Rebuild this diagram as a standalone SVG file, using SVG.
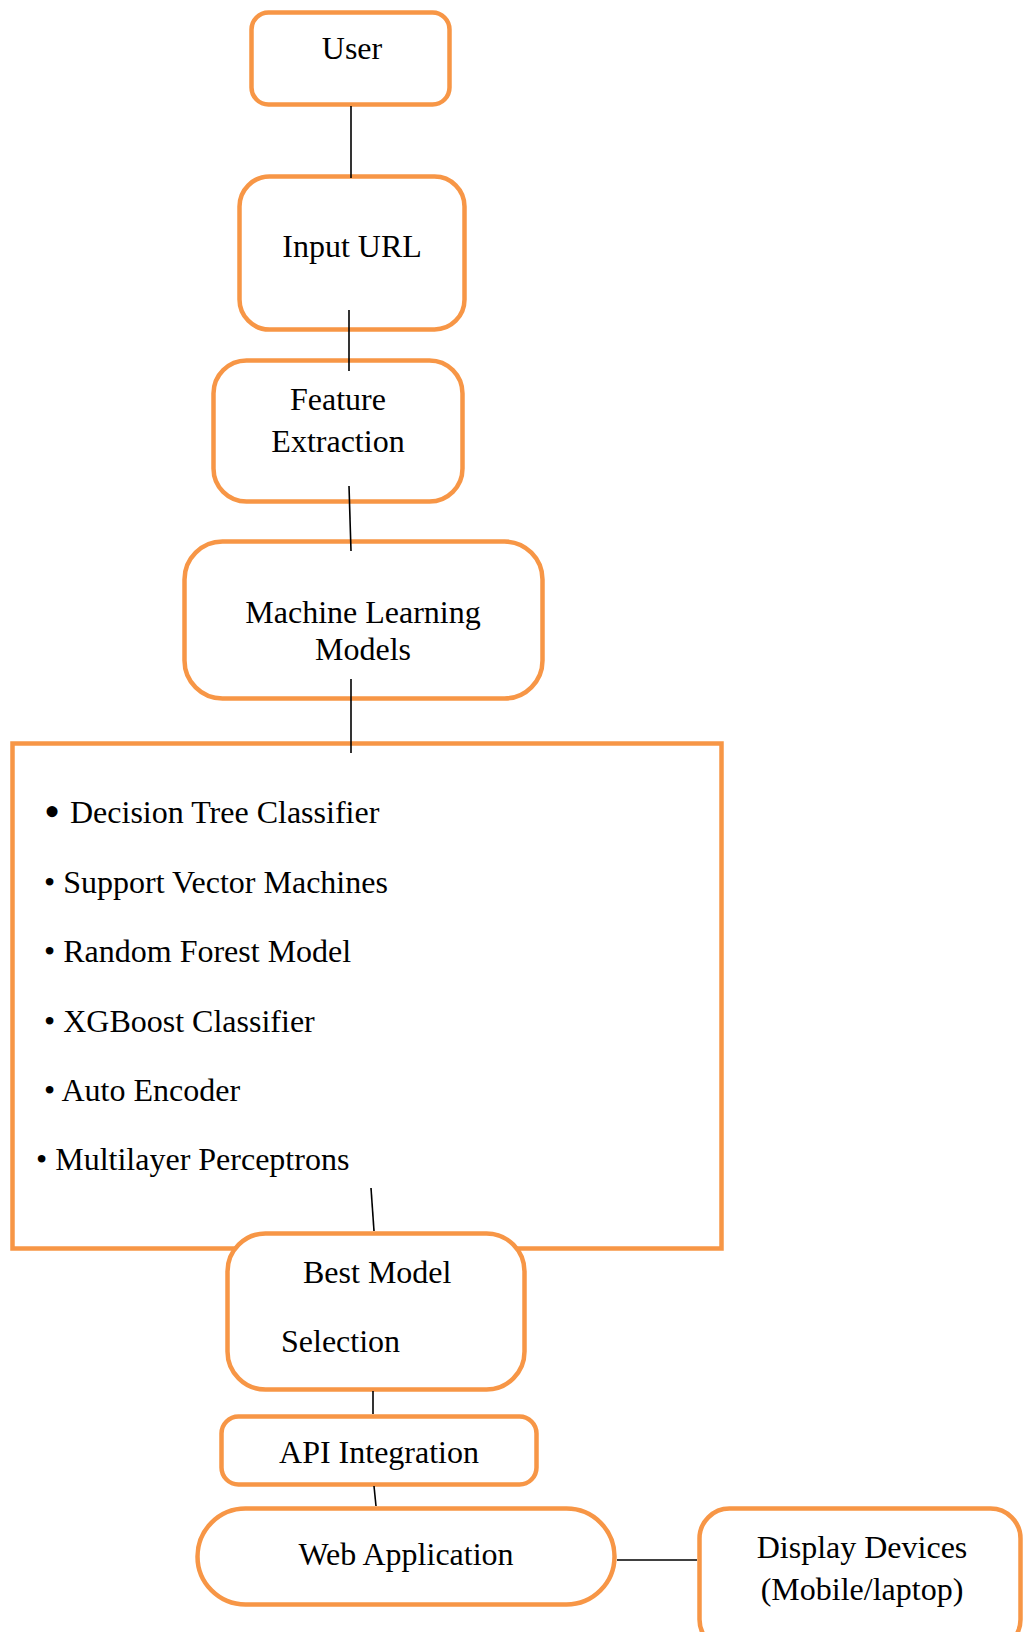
<svg xmlns="http://www.w3.org/2000/svg" width="1025" height="1632" viewBox="0 0 1025 1632">
  <style>
    .box { fill: #ffffff; stroke: #F79646; stroke-width: 4.5; }
    .lbl { font-family: "Liberation Serif", "Times New Roman", serif; font-size: 32px; fill: #000000; }
    .mid { text-anchor: middle; }
    .link { stroke: #000000; stroke-width: 1.6; fill: none; }
  </style>
  <rect width="1025" height="1632" fill="#ffffff"/>

  <g id="user">
    <rect class="box" x="251.5" y="12.5" width="198" height="92" rx="17"/>
    <text class="lbl mid" x="352" y="59">User</text>
  </g>

  <g id="input-url">
    <rect class="box" x="239.5" y="176.5" width="225" height="153" rx="30"/>
    <text class="lbl mid" x="352" y="257">Input URL</text>
  </g>

  <g id="feature-extraction">
    <rect class="box" x="213.5" y="360.5" width="249" height="141" rx="33"/>
    <text class="lbl mid" x="338" y="410">Feature</text>
    <text class="lbl mid" x="338" y="452">Extraction</text>
  </g>

  <g id="ml-models">
    <rect class="box" x="184.5" y="541.5" width="358" height="157" rx="38"/>
    <text class="lbl mid" x="363" y="623">Machine Learning</text>
    <text class="lbl mid" x="363" y="660">Models</text>
  </g>

  <g id="model-list">
    <rect class="box" x="12.5" y="743.5" width="709" height="505" rx="0"/>
    <text class="lbl"><tspan x="44" y="827" font-size="46">•</tspan><tspan x="70" y="823">Decision Tree Classifier</tspan></text>
    <text class="lbl" x="44" y="893">• Support Vector Machines</text>
    <text class="lbl" x="44" y="962">• Random Forest Model</text>
    <text class="lbl" x="44" y="1032">• XGBoost Classifier</text>
    <text class="lbl" x="44" y="1101">• Auto Encoder</text>
    <text class="lbl" x="36" y="1170">• Multilayer Perceptrons</text>
  </g>

  <g id="best-model">
    <rect class="box" x="227.5" y="1233.5" width="297" height="156" rx="38"/>
    <text class="lbl" x="303" y="1283">Best Model</text>
    <text class="lbl" x="281" y="1352">Selection</text>
  </g>

  <g id="api-integration">
    <rect class="box" x="221.5" y="1416.5" width="315" height="68" rx="17"/>
    <text class="lbl mid" x="379" y="1463">API Integration</text>
  </g>

  <g id="web-application">
    <rect class="box" x="197.5" y="1508.5" width="417" height="96" rx="48"/>
    <text class="lbl mid" x="406" y="1565">Web Application</text>
  </g>

  <g id="display-devices">
    <rect class="box" x="699.5" y="1508.5" width="321" height="141" rx="30"/>
    <text class="lbl mid" x="862" y="1558">Display Devices</text>
    <text class="lbl mid" x="862" y="1600">(Mobile/laptop)</text>
  </g>

  <g id="connectors">
    <line class="link" x1="351" y1="106" x2="351" y2="178"/>
    <line class="link" x1="349" y1="310" x2="349" y2="371"/>
    <line class="link" x1="349" y1="486" x2="351" y2="551"/>
    <line class="link" x1="351" y1="679" x2="351" y2="753"/>
    <line class="link" x1="371" y1="1188" x2="374" y2="1231"/>
    <line class="link" x1="373" y1="1391" x2="373" y2="1414"/>
    <line class="link" x1="374" y1="1486" x2="376" y2="1506"/>
    <line class="link" x1="617" y1="1560" x2="697" y2="1560"/>
  </g>
</svg>
